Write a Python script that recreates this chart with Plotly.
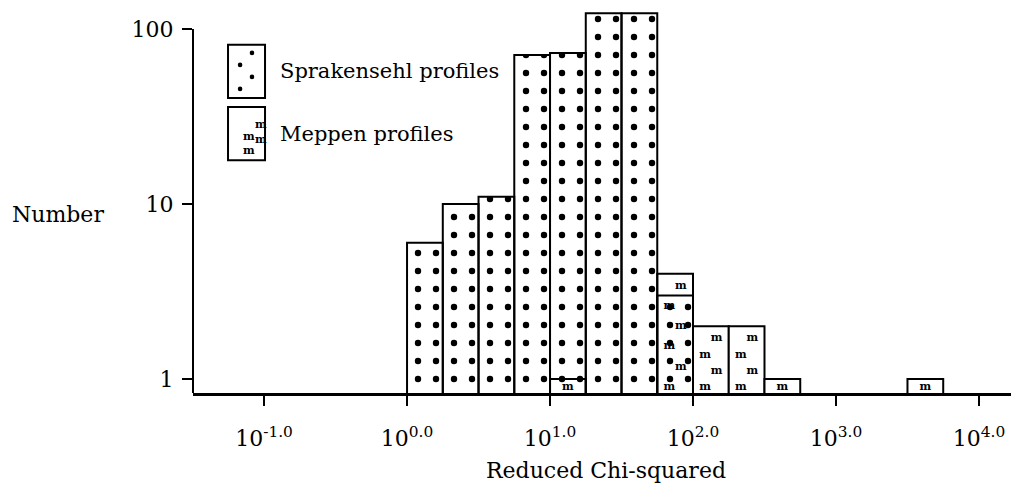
import numpy as np
import plotly.graph_objects as go

# histogram bins in log10(reduced chi-squared), width 0.25 decade
bin_lo = [0.0, 0.25, 0.5, 0.75, 1.0, 1.25, 1.5, 1.75, 2.0, 2.25, 2.5, 3.5]
sprakensehl = [6, 10, 11, 71, 73, 123, 123, 3, 0, 0, 0, 0]
meppen = [0, 0, 0, 0, 1, 0, 0, 4, 2, 2, 1, 1]

x_ticks = [-1, 0, 1, 2, 3, 4]
x_ticktext = ["10<sup>%.1f</sup>" % v for v in x_ticks]
y_ticks = [1, 10, 100]

BW = 0.25
centres = np.array(bin_lo) + BW / 2
FONT = "DejaVu Serif"

fig = go.Figure()

# Meppen bars underneath, white fill
m_mask = np.array(meppen) > 0
fig.add_trace(go.Bar(
    x=centres[m_mask], y=np.array(meppen)[m_mask], width=BW, opacity=1,
    marker=dict(color="white", line=dict(color="black", width=2)),
    showlegend=False, name="Meppen profiles",
))
# Sprakensehl bars with a dotted fill, drawn on top with a see-through background
s_mask = np.array(sprakensehl) > 0
fig.add_trace(go.Bar(
    x=centres[s_mask], y=np.array(sprakensehl)[s_mask], width=BW, opacity=1,
    marker=dict(color="rgba(0,0,0,0)", line=dict(color="black", width=2),
                pattern=dict(shape=".", fgcolor="black", fgopacity=1,
                             bgcolor="rgba(0,0,0,0)", size=18, solidity=0.1)),
    showlegend=False, name="Sprakensehl profiles",
))

# the little "m" glyphs that fill the Meppen bars
mx, my = [], []
for c, n in zip(centres, meppen):
    if n == 0:
        continue
    rows = max(1, int(round(2 + 2 * np.log10(n) / 0.3)))
    ys = np.geomspace(0.9, n * 0.85, rows) if n > 1 else [0.9]
    for i, yv in enumerate(ys):
        mx.append(c + (-0.04 if i % 2 == 0 else 0.04) if n > 1 else c)
        my.append(yv)
fig.add_trace(go.Scatter(
    x=mx, y=my, mode="text", text=["<b>m</b>"] * len(mx),
    textfont=dict(family=FONT, size=11, color="black"),
    showlegend=False, hoverinfo="skip",
))

# the page body has an 8px margin, so the figure is shifted by that much
fig.update_layout(
    barmode="overlay",
    width=1011, height=477,
    margin=dict(l=185, r=0, t=2, b=92),
    paper_bgcolor="white", plot_bgcolor="white",
    font=dict(family=FONT, color="black", size=21),
    xaxis=dict(
        range=[-1.497, 4.28], tickvals=x_ticks, ticktext=x_ticktext,
        ticks="outside", ticklen=10, tickwidth=2, tickcolor="black",
        showline=True, linewidth=3, linecolor="black", showgrid=False,
        zeroline=False, ticklabelstandoff=14, tickfont=dict(size=22),
        title=dict(text="Reduced Chi-squared", font=dict(size=22), standoff=13),
    ),
    yaxis=dict(
        type="log", range=[-0.08, 2.109], tickvals=y_ticks,
        ticktext=[str(v) for v in y_ticks],
        ticks="outside", ticklen=10, tickwidth=2, tickcolor="black",
        showline=False, showgrid=False, zeroline=False,
        tickfont=dict(size=22), ticklabelstandoff=4,
    ),
)

# y axis line only spans up to the 100 tick
fig.add_shape(type="line", xref="paper", yref="y", x0=0, x1=0, y0=0.83, y1=100,
              line=dict(color="black", width=2))

fig.add_annotation(text="Number", xref="paper", yref="paper", x=-0.2215, y=0.465,
                   xanchor="left", yanchor="middle", showarrow=False,
                   font=dict(size=22))

# hand-drawn style legend: two tall boxes with a sample of each fill
legend_items = [("Sprakensehl profiles", 0.770, 0.909),
                ("Meppen profiles", 0.608, 0.747)]
for label, y0, y1 in legend_items:
    fig.add_shape(type="rect", xref="paper", yref="paper", x0=0.0424, x1=0.0872,
                  y0=y0, y1=y1, line=dict(color="black", width=2), fillcolor="white")
    fig.add_annotation(text=label, xref="paper", yref="paper", x=0.103,
                       y=(y0 + y1) / 2, xanchor="left", yanchor="middle",
                       showarrow=False, font=dict(size=21))

for k, fy in enumerate(np.linspace(0.888, 0.794, 4)):
    fx = 0.0714 if k % 2 == 0 else 0.057
    fig.add_shape(type="circle", xref="paper", yref="paper",
                  xsizemode="pixel", ysizemode="pixel", xanchor=fx, yanchor=fy,
                  x0=-2.3, x1=2.3, y0=-2.3, y1=2.3,
                  fillcolor="black", line=dict(width=0))
for k, fy in enumerate(np.linspace(0.722, 0.632, 4)):
    fig.add_annotation(text="<b>m</b>", xref="paper", yref="paper",
                       x=0.073 if k % 2 == 0 else 0.0585, y=fy, showarrow=False,
                       font=dict(size=11))

fig.write_html("out.html")
